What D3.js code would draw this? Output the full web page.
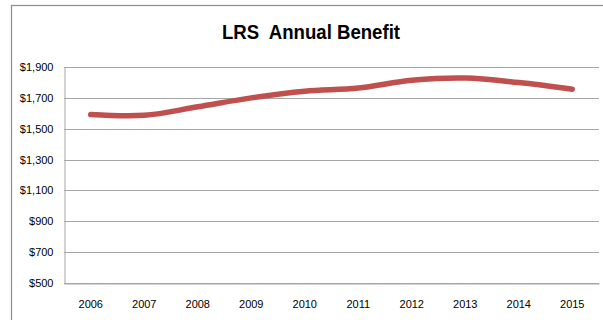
<!DOCTYPE html>
<html>
<head>
<meta charset="utf-8">
<script src="https://cdn.jsdelivr.net/npm/d3@7"></script>
<style>
  html, body { margin: 0; padding: 0; background: #fff; }
  svg { display: block; }
</style>
</head>
<body>
<svg id="chart" width="603" height="320"></svg>
<script>
const years = ["2006","2007","2008","2009","2010","2011","2012","2013","2014","2015"];
const benefit = [1592, 1587, 1642, 1700, 1743, 1764, 1814, 1829, 1799, 1756];
const yTicks = [500, 700, 900, 1100, 1300, 1500, 1700, 1900];
const title = "LRS  Annual Benefit";

const svg = d3.select("#chart");
const W = 603, H = 320;
const m = { left: 64, right: 4, top: 67, bottom: 37 };

// outer chart border
svg.append("rect")
  .attr("x", 11.5).attr("y", 5.5)
  .attr("width", W + 10).attr("height", H + 10)
  .attr("fill", "#fff").attr("stroke", "#8c8c8c").attr("stroke-width", 1.2);

const x = d3.scaleBand().domain(years).range([m.left, W - m.right]).padding(0);
const y = d3.scaleLinear().domain([500, 1900]).range([H - m.bottom, m.top]);

// gridlines
svg.append("g")
  .selectAll("line").data(yTicks).join("line")
  .attr("x1", m.left).attr("x2", W - m.right)
  .attr("y1", d => Math.round(y(d)) + 0.5).attr("y2", d => Math.round(y(d)) + 0.5)
  .attr("stroke", "#a6a6a6").attr("stroke-width", 1);

const labelFont = "Liberation Sans, Arial, sans-serif";

// y axis
const yAxis = d3.axisLeft(y).tickValues(yTicks)
  .tickFormat(d => "$" + d3.format(",")(d)).tickSize(0).tickPadding(11);
const gy = svg.append("g").attr("transform", `translate(${m.left + 0.5},0)`).call(yAxis);
gy.select(".domain").attr("stroke", "#a6a6a6");
gy.selectAll("text").attr("font-family", labelFont)
  .attr("font-size", 11).attr("fill", "#000");

// x axis
const xAxis = d3.axisBottom(x).tickSize(0).tickPadding(17);
const gx = svg.append("g").attr("transform", `translate(0,${Math.round(y(500)) + 0.5})`).call(xAxis);
gx.select(".domain").attr("stroke", "#a6a6a6");
gx.selectAll("text").attr("font-family", labelFont)
  .attr("font-size", 11).attr("fill", "#000");

// line
const line = d3.line()
  .x((d, i) => x(years[i]) + x.bandwidth() / 2)
  .y(d => y(d))
  .curve(d3.curveCatmullRom.alpha(0.5));
svg.append("path").datum(benefit)
  .attr("d", line)
  .attr("fill", "none")
  .attr("stroke", "#c0504d")
  .attr("stroke-width", 5.5)
  .attr("stroke-linecap", "round")
  .attr("stroke-linejoin", "round");

// title
svg.append("text")
  .attr("x", 311).attr("y", 39)
  .attr("text-anchor", "middle")
  .attr("font-family", "Liberation Sans, Arial, sans-serif")
  .attr("font-weight", "bold")
  .attr("font-size", 20.5)
  .attr("textLength", 178)
  .attr("lengthAdjust", "spacingAndGlyphs")
  .attr("fill", "#000")
  .attr("xml:space", "preserve")
  .style("white-space", "pre")
  .text(title);
</script>
</body>
</html>
